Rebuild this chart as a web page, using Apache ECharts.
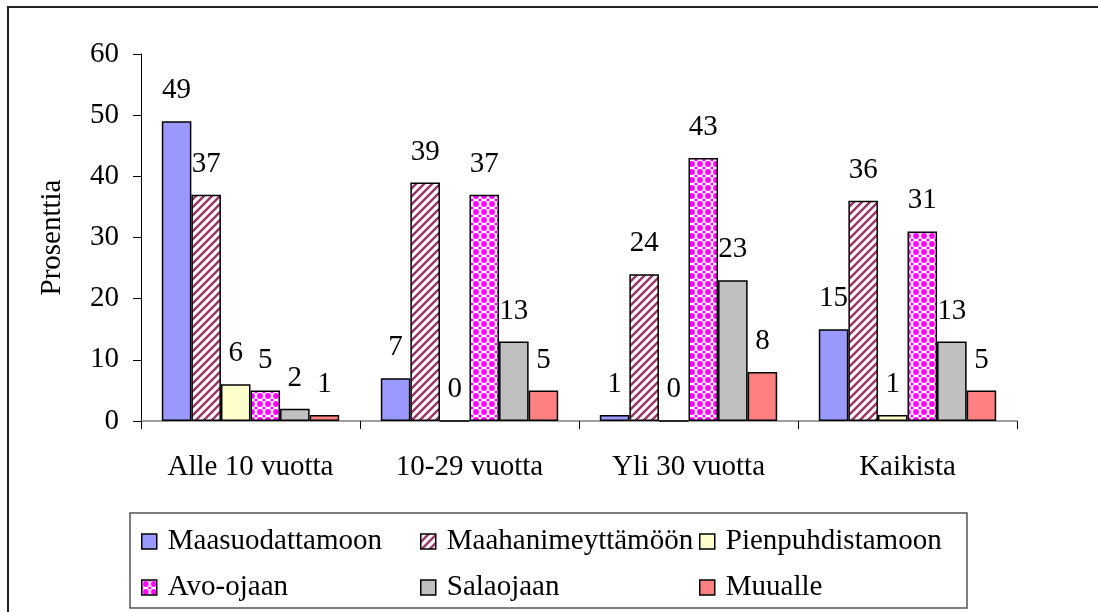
<!DOCTYPE html>
<html>
<head>
<meta charset="utf-8">
<script src="https://cdn.jsdelivr.net/npm/echarts@6/dist/echarts.min.js"></script>
<style>
  html, body { margin: 0; padding: 0; background: #fff; }
  #chart { width: 1098px; height: 612px; }
</style>
</head>
<body>
<div id="chart"></div>
<script>
// Categories (age of the property's wastewater system)
const categories = ['Alle 10 vuotta', '10-29 vuotta', 'Yli 30 vuotta', 'Kaikista'];

// Share of answers per destination, percent
const maasuodattamoon   = [49, 7, 1, 15];
const maahanimeyttamoon = [37, 39, 24, 36];
const pienpuhdistamoon  = [6, 0, 0, 1];
const avoOjaan          = [5, 37, 43, 31];
const salaojaan         = [2, 13, 23, 13];
const muualle           = [1, 5, 8, 5];

const seriesNames = ['Maasuodattamoon', 'Maahanimeyttämöön', 'Pienpuhdistamoon', 'Avo-ojaan', 'Salaojaan', 'Muualle'];
const seriesData = [maasuodattamoon, maahanimeyttamoon, pienpuhdistamoon, avoOjaan, salaojaan, muualle];

const yTicks = { min: 0, max: 60, interval: 10 };
const yName = 'Prosenttia';

const FONT = '"Liberation Serif", "Times New Roman", serif';

// Diagonal stripe fill
function stripeCanvas() {
  const s = 8;
  const c = document.createElement('canvas');
  c.width = s; c.height = s;
  const g = c.getContext('2d');
  g.fillStyle = '#ffffff';
  g.fillRect(0, 0, s, s);
  g.strokeStyle = '#993366';
  g.lineWidth = 2.4;
  g.beginPath();
  g.moveTo(-2, 2); g.lineTo(2, -2);
  g.moveTo(0, s); g.lineTo(s, 0);
  g.moveTo(s - 2, s + 2); g.lineTo(s + 2, s - 2);
  g.stroke();
  return c;
}

// Magenta dotted fill
function dotCanvas() {
  const s = 8;
  const c = document.createElement('canvas');
  c.width = s; c.height = s;
  const g = c.getContext('2d');
  g.fillStyle = '#ffffff';
  g.fillRect(0, 0, s, s);
  g.fillStyle = '#ff00ff';
  g.beginPath();
  g.arc(s / 2, s / 2, 2.9, 0, Math.PI * 2);
  g.fill();
  [[0, 0], [s, 0], [0, s], [s, s]].forEach(function (p) {
    g.beginPath();
    g.arc(p[0], p[1], 1.6, 0, Math.PI * 2);
    g.fill();
  });
  return c;
}

const fills = [
  '#9999ff',
  { image: stripeCanvas(), repeat: 'repeat' },
  '#ffffcc',
  { image: dotCanvas(), repeat: 'repeat' },
  '#c0c0c0',
  '#ff8080'
];

// Legend placement: two rows of three entries
const legendPos = [
  [141, 527], [420, 527], [699, 527],
  [141, 573], [420, 573], [699, 573]
];

const chart = echarts.init(document.getElementById('chart'), null, { renderer: 'canvas' });

const option = {
  backgroundColor: '#ffffff',
  animation: false,
  textStyle: { fontFamily: FONT, color: '#000' },
  graphic: [
    {
      type: 'rect',
      shape: { x: 8, y: 7, width: 1200, height: 700 },
      style: { fill: 'transparent', stroke: '#222', lineWidth: 2 },
      z: -1
    },
    {
      type: 'rect',
      shape: { x: 130, y: 513, width: 837, height: 95 },
      style: { fill: '#fff', stroke: '#555', lineWidth: 1.5 },
      z: -1
    }
  ],
  legend: seriesNames.map(function (name, i) {
    return {
      data: [name],
      left: legendPos[i][0],
      top: legendPos[i][1],
      padding: 0,
      icon: 'rect',
      itemWidth: 15,
      itemHeight: 15,
      itemStyle: { borderColor: '#000', borderWidth: 1.5 },
      textStyle: { fontFamily: FONT, fontSize: 29, color: '#000', padding: [0, 0, 0, 6] },
      selectedMode: false
    };
  }),
  grid: { left: 141, right: 81, top: 54, bottom: 191, containLabel: false },
  xAxis: {
    type: 'category',
    data: categories,
    axisLine: { lineStyle: { color: '#808080', width: 1.5 } },
    axisTick: { show: true, length: 8, lineStyle: { color: '#000' } },
    axisLabel: { fontFamily: FONT, fontSize: 29, color: '#000', margin: 32 }
  },
  yAxis: {
    type: 'value',
    min: yTicks.min,
    max: yTicks.max,
    interval: yTicks.interval,
    name: yName,
    nameLocation: 'middle',
    nameGap: 74,
    nameRotate: 90,
    nameTextStyle: { fontFamily: FONT, fontSize: 29, color: '#000' },
    axisLine: { show: true, lineStyle: { color: '#000', width: 1 } },
    axisTick: { show: true, length: 8, lineStyle: { color: '#000' } },
    axisLabel: { fontFamily: FONT, fontSize: 29, color: '#000', margin: 22 },
    splitLine: { show: false }
  },
  series: seriesNames.map(function (name, i) {
    return {
      name: name,
      type: 'bar',
      data: seriesData[i],
      barGap: '0%',
      barCategoryGap: '19%',
      itemStyle: { color: fills[i], borderColor: '#000', borderWidth: 1.5 },
      label: {
        show: true,
        position: 'top',
        distance: 16,
        fontFamily: FONT,
        fontSize: 29,
        color: '#000'
      }
    };
  })
};

chart.setOption(option);
</script>
</body>
</html>
